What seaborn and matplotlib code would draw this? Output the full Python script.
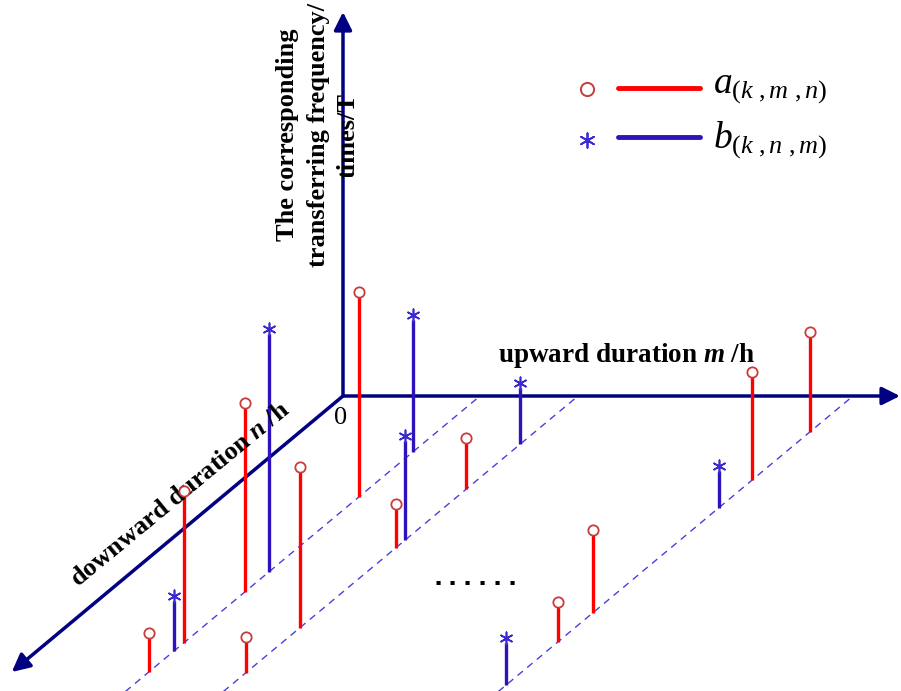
import numpy as np
import pandas as pd
import matplotlib
matplotlib.use("Agg")
import matplotlib.pyplot as plt
import seaborn as sns

# Positions of the three grid lines along the upward-duration axis (m)
m_lines = [1.37, 2.35, 5.10]

# a_(k,m,n): grid line index, position along downward axis n, frequency
a_line = [0, 0, 0, 0, 1, 1, 1, 1, 2, 2, 2, 2]
a_n = [1.01, 1.96, 2.47, 2.76, 2.32, 2.77, 1.52, 0.93, 2.46, 2.17, 0.84, 0.36]
a_val = [2.05, 1.89, 1.52, 0.39, 1.61, 0.36, 0.44, 0.51, 0.40, 0.83, 1.08, 1.00]

# b_(k,n,m)
b_line = [0, 0, 1, 1, 0, 2, 2]
b_n = [1.76, 0.56, 1.44, 0.48, 2.55, 2.89, 1.12]
b_val = [2.43, 1.37, 1.04, 0.61, 0.55, 0.47, 0.42]

# Lengths of the three axes
m_axis_len = 5.57
n_axis_len = 2.76
h_axis_len = 3.84

# Oblique projection: n recedes down-left
N_DX = 1.2


def project(m, n, h):
    m = np.asarray(m, dtype=float)
    n = np.asarray(n, dtype=float)
    h = np.asarray(h, dtype=float)
    return m - N_DX * n, h - n


sns.set_theme(style="white")
plt.rcParams["font.family"] = ["Liberation Serif", "DejaVu Serif"]
plt.rcParams["mathtext.fontset"] = "custom"
plt.rcParams["mathtext.rm"] = "Liberation Serif"
plt.rcParams["mathtext.it"] = "Liberation Serif:italic"
plt.rcParams["mathtext.bf"] = "Liberation Serif:bold"
plt.rcParams["mathtext.bfit"] = "Liberation Serif:italic:bold"

NAVY = "#000080"
RED = "#ff0000"
RING = "#c83c3c"
BLUE = "#2e12bc"
STAR = "#3a2ad0"
GRID = "#4a3ee0"

fig = plt.figure(figsize=(9.01, 6.91), dpi=100)
ax = fig.add_axes([0, 0, 1, 1])
ax.set_xlim(-3.43, 5.58)
ax.set_ylim(-2.95, 3.96)
ax.axis("off")

# Dashed grid lines parallel to the downward axis
for m in m_lines:
    gx, gy = project([m, m], [0.03, 2.97], [0, 0])
    ax.plot(gx, gy, color=GRID, lw=1.0, ls=(0, (5, 4)), zorder=1)

# Axes with arrowheads
arrow = dict(arrowstyle="-|>", mutation_scale=27, color=NAVY, lw=2.5,
             shrinkA=0, shrinkB=0)
for tip in [(0, 0, h_axis_len), (m_axis_len, 0, 0), (0, n_axis_len, 0)]:
    tx, ty = project(*tip)
    ax.annotate("", xy=(float(tx), float(ty)), xytext=(0, 0),
                arrowprops=arrow, zorder=2)

# Stems
a_m = [m_lines[i] for i in a_line]
ax_, ay_base = project(a_m, a_n, np.zeros(len(a_n)))
df_a = pd.DataFrame({"x": ax_, "base": ay_base, "top": ay_base + np.array(a_val)})

b_m = [m_lines[i] for i in b_line]
bx_, by_base = project(b_m, b_n, np.zeros(len(b_n)))
df_b = pd.DataFrame({"x": bx_, "base": by_base, "top": by_base + np.array(b_val)})

ax.vlines(df_b["x"], df_b["base"], df_b["top"] - 0.05, color=BLUE, lw=2.4, zorder=3)
ax.vlines(df_a["x"], df_a["base"], df_a["top"] - 0.04, color=RED, lw=2.4, zorder=3)

sns.scatterplot(data=df_a, x="x", y="top", marker="o", s=55, color="white",
                edgecolor=RING, linewidth=1.3, ax=ax, zorder=5, legend=False)
sns.scatterplot(data=df_b, x="x", y="top", marker=(6, 2, 0), s=80, color=STAR,
                linewidth=1.2, ax=ax, zorder=5, legend=False)

# Legend
lx0, lx1 = (618 - 343) / 100, (700 - 343) / 100
ax.plot([lx0, lx1], [(396 - 88) / 100] * 2, color=RED, lw=3.5, solid_capstyle="round")
ax.plot([lx0, lx1], [(396 - 137) / 100] * 2, color=BLUE, lw=3.5, solid_capstyle="round")
ax.scatter([(587 - 343) / 100], [(396 - 89) / 100], marker="o", s=90,
           facecolor="white", edgecolor=RING, linewidth=1.4, zorder=5)
ax.scatter([(587 - 343) / 100], [(396 - 140) / 100], marker=(6, 2, 0), s=110,
           color=STAR, linewidth=1.3, zorder=5)
ax.text((713 - 343) / 100, (396 - 88) / 100, r"$a_{(k\ ,m\ ,n)}$",
        fontsize=27, va="center", ha="left", color="black")
ax.text((713 - 343) / 100, (396 - 140) / 100, r"$b_{(k\ ,n\ ,m)}$",
        fontsize=27, va="center", ha="left", color="black")

# Axis labels
ax.text((318 - 343) / 100, (396 - 135) / 100,
        "The corresponding\ntransferring frequency/\ntimes/T",
        rotation=90, ha="center", va="center", fontsize=19, fontweight="bold",
        linespacing=1.42, color="black")
ax.text((627 - 343) / 100, (396 - 356) / 100, r"upward duration $\mathbfit{m}$ /h",
        ha="center", va="center", fontsize=19.5, fontweight="bold", color="black")
ax.text((180 - 343) / 100, (396 - 495) / 100, r"downward duration $\mathbfit{n}$ /h",
        rotation=39.5, rotation_mode="anchor", ha="center", va="center",
        fontsize=19, fontweight="bold", color="black")
ax.text(-0.02, -0.22, "0", ha="center", va="center", fontsize=19, color="black")
ax.text((475 - 343) / 100, (396 - 578) / 100, "......", ha="center", va="center",
        fontsize=18, family="DejaVu Sans Mono", fontweight="bold", color="black")

fig.savefig("out.png", dpi=100)
